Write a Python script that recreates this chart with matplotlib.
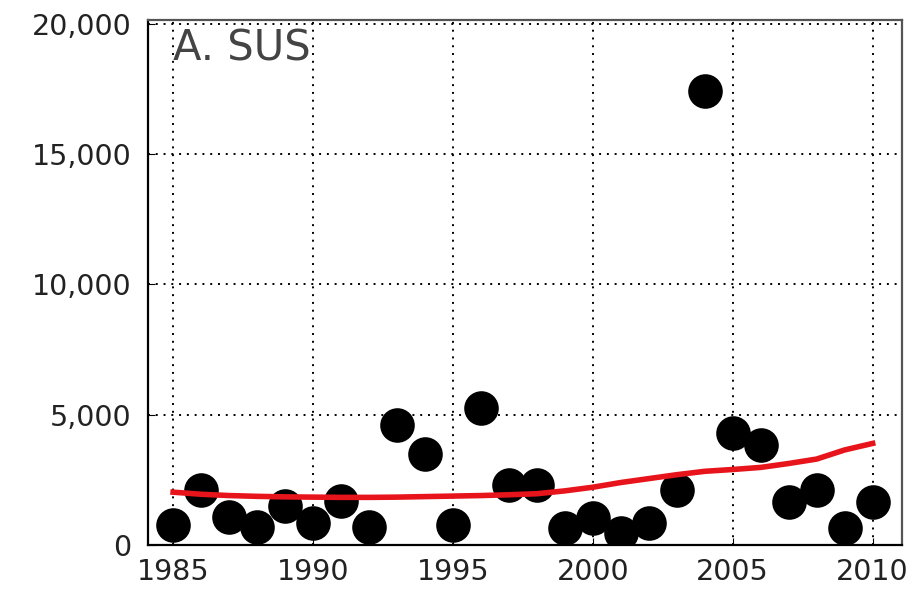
import matplotlib
matplotlib.use("Agg")
import matplotlib.pyplot as plt
from matplotlib.ticker import FuncFormatter

years = list(range(1985, 2011))
counts = [770, 2100, 1070, 700, 1500, 840, 1700, 700, 4600, 3500,
          770, 5250, 2300, 2300, 650, 1030, 460, 840, 2100, 17400,
          4300, 3830, 1650, 2100, 650, 1650]
trend = [2030, 1950, 1900, 1870, 1850, 1840, 1830, 1830, 1840, 1860,
         1880, 1900, 1930, 1970, 2080, 2220, 2400, 2550, 2700, 2830,
         2900, 2980, 3130, 3300, 3650, 3900]
xticks = [1985, 1990, 1995, 2000, 2005, 2010]
yticks = [0, 5000, 10000, 15000, 20000]
panel_label = "A. SUS"

fig = plt.figure(figsize=(9.13, 5.99), dpi=100)
ax = fig.add_axes([0.162, 0.090, 0.826, 0.877])

ax.scatter(years, counts, s=620, color="black", zorder=3, linewidths=0)
ax.plot(years, trend, color="#e8141c", linewidth=4, zorder=4)

ax.set_xlim(1984.1, 2011.05)
ax.set_ylim(0, 20150)
ax.set_xticks(xticks)
ax.set_yticks(yticks)
ax.yaxis.set_major_formatter(FuncFormatter(lambda v, p: f"{int(v):,}"))
ax.tick_params(direction="in", labelsize=20.5, labelcolor="#222222", length=5)
ax.tick_params(axis="y", pad=12)
ax.tick_params(axis="x", pad=9)
ax.grid(True, color="black", linestyle=(0, (1, 3)), linewidth=1.4)

for side in ("left", "bottom"):
    ax.spines[side].set_color("black")
    ax.spines[side].set_linewidth(1.6)
for side in ("top", "right"):
    ax.spines[side].set_color("#555555")
    ax.spines[side].set_linewidth(1.6)

ax.text(0.033, 0.985, panel_label, transform=ax.transAxes, fontsize=30,
        color="#444444", va="top", ha="left")

fig.savefig("out.png", dpi=100)
